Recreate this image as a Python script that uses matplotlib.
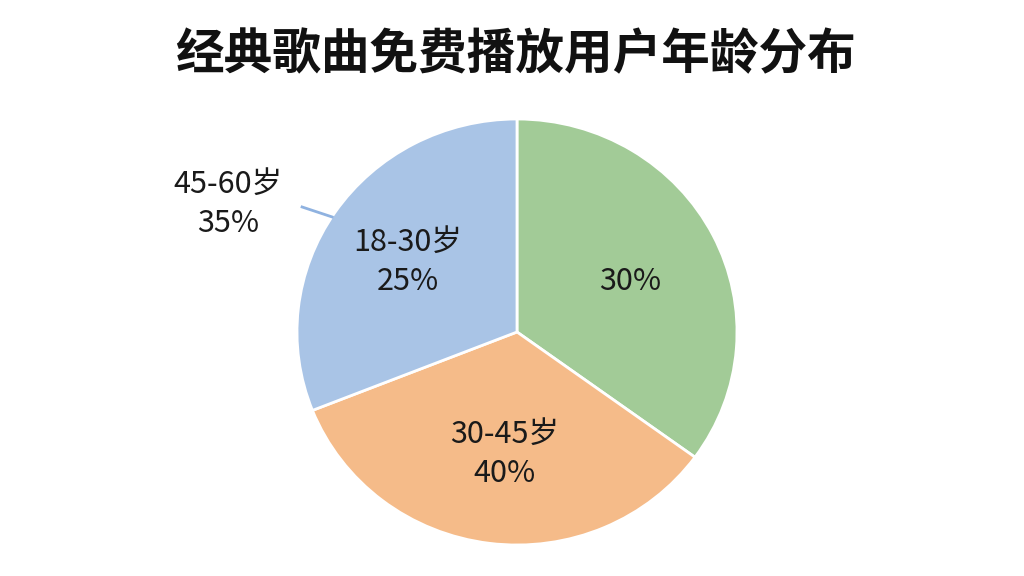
import matplotlib
matplotlib.use('Agg')
from matplotlib import pyplot as plt

plt.rcParams['font.family'] = ['Noto Sans CJK SC', 'DejaVu Sans']

# slices drawn clockwise from 12 o'clock: green, orange, blue
slice_sizes = [35, 34, 31]
slice_colors = ['#a2cb97', '#f5bb89', '#a9c4e6']
age_groups = ['18-30岁', '30-45岁', '45-60岁']
shown_pct = ['25%', '40%', '35%', '30%']
title = '经典歌曲免费播放用户年龄分布'

fig = plt.figure(figsize=(10.24, 5.76), dpi=100)
fig.patch.set_facecolor('white')

# pie centre ~ (517, 332) px, radius ~ 220 x 213 px
ax = fig.add_axes([297 / 1024, 31 / 576, 440 / 1024, 426 / 576])
ax.pie(slice_sizes, colors=slice_colors, startangle=90, counterclock=False,
       radius=1.0, wedgeprops=dict(edgecolor='white', linewidth=2))
ax.set_xlim(-1, 1)
ax.set_ylim(-1, 1)
ax.set_aspect('auto')
ax.axis('off')

txt = dict(ha='center', va='center', fontsize=22, color='#1a1a1a', linespacing=1.33)
ax.text(0.514, 0.235, shown_pct[3], **txt)
ax.text(-0.055, -0.573, f'{age_groups[1]}\n{shown_pct[1]}', **txt)
ax.text(-0.495, 0.329, f'{age_groups[0]}\n{shown_pct[0]}', **txt)
ax.text(-1.314, 0.601, f'{age_groups[2]}\n{shown_pct[2]}', clip_on=False, **txt)
ax.plot([-0.977, -0.84], [0.587, 0.54], color='#8fb2e0', lw=2, clip_on=False)

fig.text(0.503, 0.905, title, ha='center', va='center', fontsize=35,
         fontweight='bold', color='#111111')

fig.savefig('out.png', dpi=100)
